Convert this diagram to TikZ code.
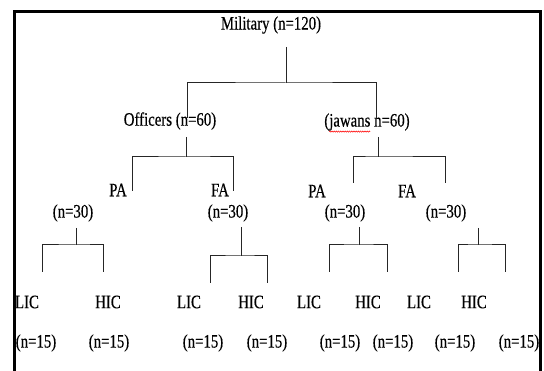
\documentclass[tikz,border=0pt]{standalone}
\usepackage{fontspec}
\setmainfont{Liberation Serif}[FakeStretch=0.78, FakeBold=0.4]
\usetikzlibrary{decorations.pathmorphing}

\begin{document}
\begin{tikzpicture}[x=1pt, y=-1pt, font=\fontsize{19}{22}\selectfont,
  lbl/.style={inner sep=0pt},
  tline/.style={line width=1pt, black!85},
  spell/.style={red, line width=0.5pt, decorate, decoration={snake, amplitude=0.6pt, segment length=2.2pt}}]
\useasboundingbox (0,0) rectangle (544,371);
% frame
\draw[line width=3pt] (14,385) -- (14,11.5) -- (540,11.5) -- (540,385);
% top levels
\node[lbl] (mil) at (271,25) {Military (n=120)};
\node[lbl] (off) at (170,121) {Officers (n=60)};
\node[lbl] (jaw) at (367,122) {(jawans n=60)};
\draw[spell] ([xshift=5pt, yshift=-5pt]jaw.base west) -- ++(41,0);
% PA / FA
\node[lbl] (paO) at (118,190) {PA};
\node[lbl] (faO) at (220,190) {FA};
\node[lbl] (paJ) at (317,191) {PA};
\node[lbl] (faJ) at (407,191) {FA};
\node[lbl] (nPaO) at (73,213) {(n=30)};
\node[lbl] (nFaO) at (228,213) {(n=30)};
\node[lbl] (nPaJ) at (345,213) {(n=30)};
\node[lbl] (nFaJ) at (446,213) {(n=30)};
% LIC / HIC
\node[lbl] (licA) at (27,302) {LIC};
\node[lbl] (hicA) at (108,302) {HIC};
\node[lbl] (licB) at (189,302) {LIC};
\node[lbl] (hicB) at (251,302) {HIC};
\node[lbl] (licC) at (309,302) {LIC};
\node[lbl] (hicC) at (368,302) {HIC};
\node[lbl] (licD) at (419,302) {LIC};
\node[lbl] (hicD) at (474,302) {HIC};
\node[lbl] (nLicA) at (36,343) {(n=15)};
\node[lbl] (nHicA) at (109,343) {(n=15)};
\node[lbl] (nLicB) at (203,343) {(n=15)};
\node[lbl] (nHicB) at (267,343) {(n=15)};
\node[lbl] (nLicC) at (340,343) {(n=15)};
\node[lbl] (nHicC) at (393,343) {(n=15)};
\node[lbl] (nLicD) at (455,343) {(n=15)};
\node[lbl] (nHicD) at (519,343) {(n=15)};
% splits: stem, bar, legs
\coordinate (mil-s) at (286,47); \coordinate (mil-m) at (286,83);
\coordinate (mil-l) at (187,118); \coordinate (mil-r) at (376,118);
\draw[tline] (mil-s) -- (mil-m);
\draw[tline] (mil-l) |- (mil-m) -| (mil-r);
\coordinate (off-s) at (186,137); \coordinate (off-m) at (186,157);
\coordinate (off-l) at (132,191); \coordinate (off-r) at (233,191);
\draw[tline] (off-s) -- (off-m);
\draw[tline] (off-l) |- (off-m) -| (off-r);
\coordinate (jaw-s) at (378,137); \coordinate (jaw-m) at (378,157);
\coordinate (jaw-l) at (353,183); \coordinate (jaw-r) at (445,183);
\draw[tline] (jaw-s) -- (jaw-m);
\draw[tline] (jaw-l) |- (jaw-m) -| (jaw-r);
\coordinate (gA-s) at (76,228); \coordinate (gA-m) at (76,245);
\coordinate (gA-l) at (42,272); \coordinate (gA-r) at (103,272);
\draw[tline] (gA-s) -- (gA-m);
\draw[tline] (gA-l) |- (gA-m) -| (gA-r);
\coordinate (gB-s) at (241,227); \coordinate (gB-m) at (241,256);
\coordinate (gB-l) at (210,283); \coordinate (gB-r) at (267,283);
\draw[tline] (gB-s) -- (gB-m);
\draw[tline] (gB-l) |- (gB-m) -| (gB-r);
\coordinate (gC-s) at (359,227); \coordinate (gC-m) at (359,245);
\coordinate (gC-l) at (329,272); \coordinate (gC-r) at (387,272);
\draw[tline] (gC-s) -- (gC-m);
\draw[tline] (gC-l) |- (gC-m) -| (gC-r);
\coordinate (gD-s) at (478,228); \coordinate (gD-m) at (478,245);
\coordinate (gD-l) at (458,272); \coordinate (gD-r) at (505,272);
\draw[tline] (gD-s) -- (gD-m);
\draw[tline] (gD-l) |- (gD-m) -| (gD-r);
\end{tikzpicture}
\end{document}
